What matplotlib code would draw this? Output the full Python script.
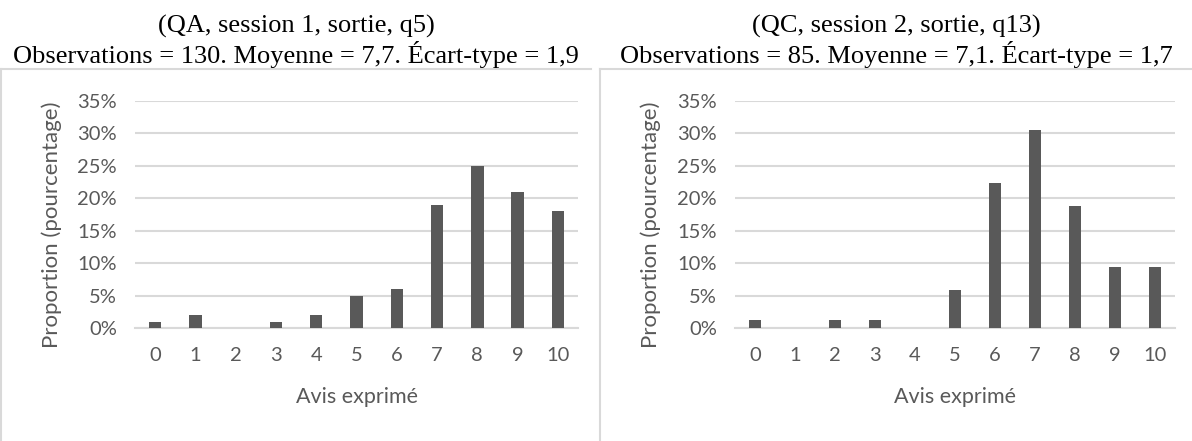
import matplotlib

matplotlib.use("Agg")
import matplotlib.pyplot as plt
from matplotlib.lines import Line2D
from matplotlib.ticker import PercentFormatter

# data (proportions)
categories = [str(i) for i in range(11)]
qa_values = [0.01, 0.02, 0.00, 0.01, 0.02, 0.05, 0.06, 0.19, 0.25, 0.21, 0.18]
qc_values = [1 / 85, 0, 1 / 85, 1 / 85, 0, 5 / 85, 19 / 85, 26 / 85, 16 / 85, 8 / 85, 8 / 85]
title_lines = [
    ("(QA, session 1, sortie, q5)", "Observations = 130. Moyenne = 7,7. Écart-type = 1,9"),
    ("(QC, session 2, sortie, q13)", "Observations = 85. Moyenne = 7,1. Écart-type = 1,7"),
]
x_label = "Avis exprimé"
y_label = "Proportion (pourcentage)"

W, H = 1192, 441
bar_color = "#595959"
grid_color = "#d9d9d9"
text_color = "#595959"
sans = ["Lato", "DejaVu Sans"]
serif = ["Liberation Serif", "DejaVu Serif"]

fig = plt.figure(figsize=(W / 100, H / 100), dpi=100)


def fx(px):
    return px / W


def fy(py):
    return 1 - py / H


# panel frames (chart area borders)
frame_kw = dict(color=grid_color, linewidth=1.5, transform=fig.transFigure)
fig.add_artist(Line2D([fx(1), fx(591)], [fy(69), fy(69)], **frame_kw))
fig.add_artist(Line2D([fx(1), fx(1)], [fy(69), fy(H)], **frame_kw))
fig.add_artist(Line2D([fx(600), fx(W)], [fy(69), fy(69)], **frame_kw))
fig.add_artist(Line2D([fx(600), fx(600)], [fy(69), fy(H)], **frame_kw))

panels = [
    (qa_values, title_lines[0], 135, 578, 296, 52),
    (qc_values, title_lines[1], 735, 1175, 896, 651),
]

for values, (t1, t2), x0, x1, title_x, ylab_x in panels:
    ax = fig.add_axes([fx(x0), fy(328), (x1 - x0) / W, 227 / H])
    xs = list(range(len(categories)))
    ax.bar(xs, values, width=0.31, color=bar_color, zorder=3)
    ax.set_xlim(-0.5, len(categories) - 0.5)
    ax.set_ylim(0, 0.35)
    ax.set_yticks([i * 0.05 for i in range(8)])
    ax.yaxis.set_major_formatter(PercentFormatter(1.0, decimals=0))
    ax.set_xticks(xs)
    ax.set_xticklabels(categories)
    ax.grid(axis="y", color=grid_color, linewidth=1.5, zorder=0)
    for s in ["top", "right", "left"]:
        ax.spines[s].set_visible(False)
    ax.spines["bottom"].set_color(grid_color)
    ax.spines["bottom"].set_linewidth(1.5)
    ax.tick_params(length=0, labelsize=14.5, labelcolor=text_color)
    ax.tick_params(axis="y", pad=13)
    ax.tick_params(axis="x", pad=14)
    for lab in ax.get_xticklabels() + ax.get_yticklabels():
        lab.set_family(sans)

    fig.text(fx((x0 + x1) / 2), fy(397), x_label, ha="center", va="center",
             fontsize=15.5, color=text_color, family=sans)
    fig.text(fx(ylab_x), fy(225), y_label, ha="center", va="center", rotation=90,
             fontsize=16, color=text_color, family=sans)
    fig.text(fx(title_x), fy(33), t1, ha="center", va="baseline",
             fontsize=19, color="black", family=serif)
    fig.text(fx(title_x), fy(63), t2, ha="center", va="baseline",
             fontsize=19, color="black", family=serif)

fig.savefig("out.png", dpi=100)
